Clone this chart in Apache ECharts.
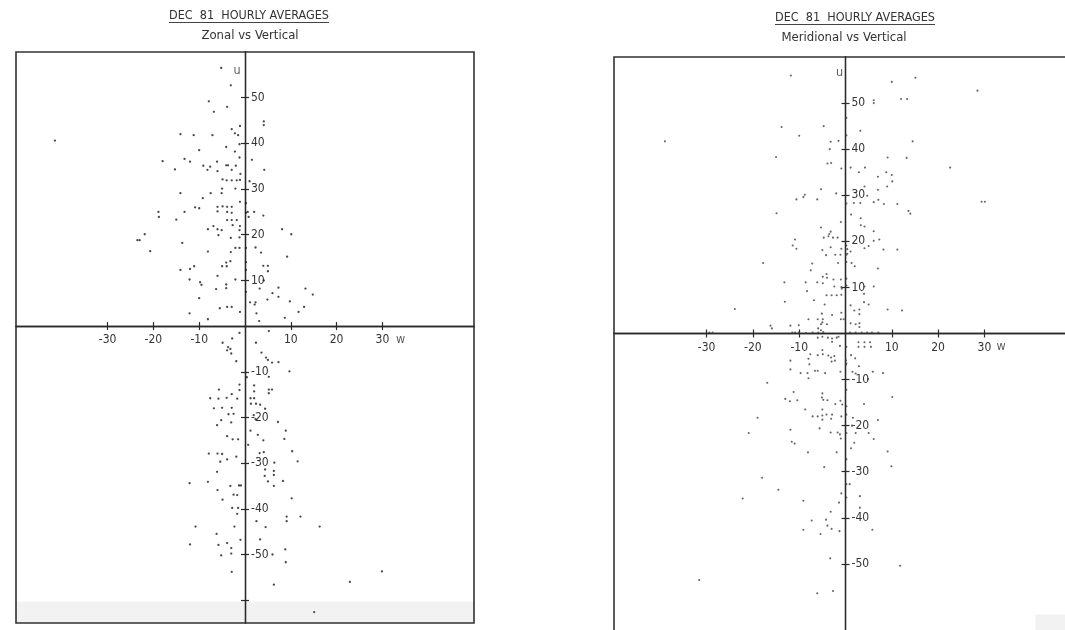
<!DOCTYPE html>
<html>
<head>
<meta charset="utf-8">
<title>DEC 81 HOURLY AVERAGES</title>
<script src="https://cdn.jsdelivr.net/npm/echarts@6/dist/echarts.min.js"></script>
<style>
  html, body { margin: 0; padding: 0; background: #ffffff; }
  #chart { width: 1065px; height: 630px; }
</style>
</head>
<body>
<div id="chart"></div>
<script>
// Text
const mainTitle = 'DEC  81  HOURLY AVERAGES';
const zonalSubtitle = 'Zonal vs Vertical';
const meridSubtitle = 'Meridional vs Vertical';

// Axis ranges and ticks (horizontal: w, vertical: u)
const wRange = [-50, 50];
const uRange = [-65, 60];
const wTicks = [-30, -20, -10, 10, 20, 30];
const uTicksZonal = [-60, -50, -40, -30, -20, -10, 10, 20, 30, 40, 50];
const uTicksMerid = [-50, -40, -30, -20, -10, 10, 20, 30, 40, 50];
const uLabels = [-50, -40, -30, -20, -10, 10, 20, 30, 40, 50];

// Zonal vs vertical hourly averages, [w, u]
const zonalAbove = [
  [-5.2,56.5],[-3.1,52.7],[-7.9,49.2],[-6.8,46.9],[-3.9,48.0],[4.1,44.8],[4.1,44.0],[-41.5,40.6],
  [-14.1,42.0],[-11.2,41.8],[-7.1,41.8],[-2.9,43.1],[-2.2,42.2],[-1.5,41.8],[-1.1,43.8],[-1.2,39.8],
  [-4.1,39.2],[-10.0,38.5],[-2.2,38.2],[-1.2,36.9],[1.5,36.4],[-18.0,36.1],[-13.2,36.6],[-12.0,36.0],
  [-9.1,35.1],[-7.6,34.9],[-8.2,34.2],[-6.1,36.0],[-6.0,33.9],[-4.1,35.2],[-3.7,35.2],[-2.9,34.2],
  [-2.0,35.1],[-1.0,33.3],[4.2,34.2],[-15.3,34.3],[-4.9,32.1],[-4.0,31.9],[-2.9,31.9],[-1.8,31.9],
  [-1.1,32.0],[1.0,31.7],[-2.1,30.1],[-5.0,30.1],[-5.1,29.1],[-7.5,29.1],[-14.1,29.1],[-9.2,28.0],
  [-1.1,27.2],[-10.9,26.0],[-10.0,25.8],[-6.0,26.1],[-4.9,26.2],[-3.9,26.1],[-2.9,26.1],[-6.0,25.1],
  [-3.9,25.0],[-2.9,24.8],[0.6,25.0],[2.0,25.0],[0.8,23.9],[4.0,24.2],[-18.9,25.0],[-18.8,23.9],
  [-13.2,25.0],[-15.0,23.3],[-3.9,23.2],[-2.9,23.2],[-1.8,23.2],[-6.9,21.9],[-2.7,22.1],[-1.1,21.9],
  [-8.1,21.2],[-6.0,21.2],[-5.1,21.0],[-5.8,19.9],[-1.2,21.0],[8.1,21.2],[10.1,20.1],[-21.9,20.1],
  [-23.5,18.8],[-23.0,18.8],[-13.7,18.2],[-3.1,19.3],[-1.2,19.4],[-2.1,17.1],[-1.2,17.1],[2.3,17.2],
  [-20.7,16.4],[-8.1,16.3],[-3.1,16.2],[3.5,16.1],[9.2,15.2],[-3.2,14.2],[-4.1,13.9],[-5.0,13.1],
  [-4.0,13.1],[-11.1,13.1],[-12.0,12.5],[-14.1,12.3],[4.0,13.2],[5.0,13.2],[5.0,12.0],[-6.0,11.0],
  [-12.1,10.2],[-9.8,9.6],[-9.5,9.0],[-4.1,9.1],[-4.1,8.3],[-6.3,8.1],[-2.1,10.2],[4.1,10.0],
  [3.2,8.2],[7.3,8.4],[7.3,6.4],[6.0,7.2],[13.2,8.2],[14.8,6.9],[4.9,5.8],[-10.0,6.1],
  [9.8,5.4],[1.1,5.2],[2.3,5.2],[2.1,4.7],[12.9,4.2],[11.7,3.1],[-5.5,3.9],[-3.9,4.2],
  [-2.9,4.2],[-1.1,3.1],[2.5,2.8],[-12.1,2.8],[-8.1,1.5],[8.7,1.8],[3.1,1.1],
  [0.2,26.9],[0.2,24.8],[0.2,17.1],[0.2,14.0],[0.2,12.3],[0.2,7.5]
];
const zonalBelow = [
  [-1.2,-1.5],[5.2,-1.1],[-2.8,-2.7],[-4.9,-3.65],[2.4,-3.65],[-3.7,-4.6],[-3.2,-5.0],[-3.9,-5.3],
  [-3.0,-6.0],[3.6,-5.8],[4.6,-6.9],[5.0,-7.4],[5.9,-8.0],[7.3,-7.9],[-1.9,-7.7],[9.7,-9.9],
  [0.4,-11.2],[5.2,-11.1],[-1.2,-12.8],[-1.2,-14.0],[2.0,-13.0],[2.0,-14.3],[5.2,-13.9],[5.2,-14.7],
  [5.9,-13.9],[-5.7,-13.9],[-2.9,-14.9],[-7.6,-15.8],[-5.8,-15.9],[-4.0,-15.7],[-1.7,-15.9],[1.2,-15.8],
  [2.0,-15.8],[1.3,-17.0],[2.4,-17.0],[3.3,-17.2],[-6.8,-18.0],[-5.0,-17.9],[-2.9,-17.9],[4.4,-18.1],
  [-3.6,-19.3],[-2.5,-19.2],[-5.2,-20.6],[-3.0,-21.1],[-6.1,-21.7],[1.9,-19.5],[2.3,-20.4],[7.2,-21.0],
  [8.9,-22.9],[1.2,-22.9],[2.8,-23.8],[-3.9,-24.1],[-2.7,-24.8],[-1.5,-24.8],[8.6,-24.7],[4.0,-25.0],
  [0.7,-26.0],[10.3,-27.4],[-7.9,-27.9],[-6.0,-27.9],[-5.0,-28.0],[-1.9,-28.6],[3.2,-27.8],[4.1,-27.6],
  [-3.9,-29.2],[-5.4,-29.7],[6.4,-29.9],[11.5,-29.6],[-6.1,-31.9],[4.4,-31.4],[6.3,-31.7],[6.3,-32.6],
  [4.3,-32.8],[-12.1,-34.4],[-8.1,-34.1],[5.0,-34.0],[6.3,-35.0],[8.3,-33.9],[-3.2,-35.0],[-1.3,-34.9],
  [-0.9,-34.9],[-6.0,-35.9],[-2.5,-36.9],[-1.7,-37.0],[-4.9,-38.0],[10.2,-37.7],[-2.8,-39.8],[-1.5,-39.8],
  [-1.7,-41.1],[2.5,-42.7],[9.1,-41.7],[9.1,-42.7],[12.1,-41.7],[-10.8,-43.9],[-2.3,-43.9],[4.5,-44.0],
  [16.3,-43.9],[-6.2,-45.5],[3.3,-46.7],[-1.0,-46.8],[-12.0,-47.8],[-5.8,-47.9],[-3.9,-47.5],[-3.0,-48.6],
  [-3.0,-49.8],[-5.2,-50.2],[6.0,-50.0],[8.8,-48.9],[8.9,-51.7],[-2.9,-53.8],[29.9,-53.7],[22.9,-56.0],
  [6.3,-56.6],[15.1,-62.6]
];

// Meridional vs vertical hourly averages, [w, u]
const meridAbove = [
  [-11.8,56.0],[10.0,54.6],[15.1,55.5],[28.5,52.7],[6.1,50.6],[6.1,50.0],[12.0,50.9],[13.3,50.9],
  [-13.8,44.8],[-4.7,45.0],[-10.0,42.9],[3.2,44.0],[-39.0,41.7],[-3.2,41.6],[-1.5,41.8],[-3.4,40.0],
  [14.5,41.7],[-15.0,38.3],[9.1,38.2],[13.2,38.1],[-3.9,36.9],[-3.1,37.0],[-0.9,35.8],[1.1,36.0],
  [4.2,36.0],[2.9,35.0],[22.6,36.0],[8.8,35.0],[10.0,34.4],[10.1,33.0],[7.0,34.0],[4.1,31.9],
  [9.0,31.9],[-5.3,31.3],[7.0,31.2],[-2.0,30.4],[-8.8,30.1],[-9.1,29.6],[-10.6,29.1],[-6.1,29.1],
  [4.7,29.9],[1.8,28.3],[3.2,28.3],[6.1,28.5],[7.1,29.0],[8.3,28.1],[11.2,28.1],[29.4,28.6],
  [30.1,28.6],[-14.9,26.1],[13.6,26.6],[14.0,26.0],[1.2,25.8],[3.3,25.0],[-1.0,24.2],[3.3,23.5],
  [4.1,23.2],[-5.3,23.0],[6.1,22.2],[-3.2,22.1],[-3.5,21.6],[-4.7,20.8],[-3.7,21.1],[-2.7,20.8],
  [-1.7,20.8],[-10.9,20.4],[-11.4,19.1],[-10.6,18.4],[6.1,20.1],[7.3,20.4],[5.0,19.0],[-5.0,18.1],
  [-3.2,18.7],[-0.9,18.4],[0.4,18.3],[1.1,17.8],[0.4,17.3],[4.1,18.5],[8.2,18.2],[11.2,18.2],
  [-4.2,17.0],[-2.2,17.1],[-1.1,17.1],[-17.8,15.3],[-7.2,15.2],[-1.6,15.3],[1.3,15.3],[2.0,14.6],
  [7.0,14.1],[-7.5,13.7],[-4.1,12.9],[-4.9,12.3],[-4.0,12.1],[-2.6,11.7],[-1.0,11.7],[-13.2,11.1],
  [-8.6,11.1],[-6.1,11.1],[-4.9,10.9],[-2.4,10.2],[-0.9,10.1],[-0.8,9.7],[4.1,10.2],[6.1,10.2],
  [-8.3,9.2],[4.0,8.6],[-4.1,8.3],[-3.0,8.3],[-1.9,8.3],[-0.9,8.4],[-6.8,7.2],[-13.1,6.9],
  [4.0,6.8],[5.0,6.3],[-4.5,6.3],[1.1,6.1],[-0.9,4.5],[-23.9,5.3],[9.1,5.2],[12.2,5.0],
  [3.0,5.2],[3.0,4.2],[1.9,5.0],[-5.1,4.3],[-2.9,4.0],[-8.0,3.1],[-6.0,3.1],[-4.9,3.1],
  [-1.0,3.1],[-0.4,3.1],[-5.0,2.4],[-5.3,2.0],[-4.0,2.0],[1.1,2.2],[2.2,2.0],[3.0,2.2],
  [-16.2,1.7],[-15.9,1.1],[-11.9,1.7],[-10.1,1.8],[-5.9,1.1],[-5.3,0.7],[3.0,1.4],
  [-11.5,0.2],[-10.9,0.2],[-10.1,0.2],[-8.5,0.1],[-7.1,0.2],[-5.9,0.2],[-4.8,0.3],[1.0,0.2],
  [2.2,0.2],[3.5,0.2],[4.7,0.2],[5.7,0.2],[7.1,0.2],[-29.4,0.2],[-28.7,0.2],
  [0.2,46.8],[0.2,43.0],[0.2,28.2],[0.2,19.1],[0.2,17.1],[0.2,15.5],[0.2,11.9],[0.2,10.4]
];
const meridBelow = [
  [-6.0,-0.9],[-5.0,-0.7],[-3.8,-0.9],[-2.9,-1.1],[-1.9,-0.9],[-1.5,-0.7],[-2.9,-1.8],[-1.2,-2.7],
  [2.8,-1.9],[4.1,-1.9],[5.3,-1.9],[2.8,-2.9],[4.1,-2.9],[5.5,-2.9],[-7.6,-4.5],[-8.0,-5.5],
  [-7.8,-6.7],[-6.0,-4.7],[-5.0,-3.6],[-4.9,-4.5],[-3.7,-4.8],[-3.1,-5.2],[-2.4,-4.9],[-3.0,-6.1],
  [-2.3,-5.9],[0.1,-5.8],[0.1,-6.8],[1.2,-4.7],[2.1,-5.4],[-11.9,-5.9],[-11.9,-7.8],[-9.7,-8.6],
  [-8.2,-8.6],[-8.0,-9.7],[-6.6,-8.1],[-6.0,-8.1],[-4.4,-8.6],[-1.1,-8.3],[1.5,-8.3],[2.2,-8.7],
  [2.9,-7.1],[5.9,-8.3],[8.1,-8.6],[4.9,-9.9],[-16.9,-10.7],[-11.2,-12.7],[-5.0,-13.0],[-5.1,-13.9],
  [-4.8,-14.4],[-3.9,-14.5],[-13.0,-14.2],[-12.0,-14.7],[-10.4,-14.5],[10.1,-13.8],[-1.1,-14.6],[-0.7,-15.4],
  [-2.2,-15.3],[4.0,-15.3],[-5.0,-16.5],[-8.7,-16.5],[-7.1,-18.0],[-6.0,-18.0],[-5.0,-17.8],[-4.1,-17.6],
  [-2.9,-17.6],[-3.1,-18.5],[-5.0,-18.7],[-0.9,-18.0],[1.6,-18.3],[7.0,-18.8],[-19.0,-18.3],[1.4,-20.0],
  [-5.6,-20.6],[-3.2,-21.5],[-1.7,-21.5],[-1.2,-21.9],[2.2,-21.6],[5.0,-21.6],[6.1,-22.9],[-20.9,-21.6],
  [-11.9,-20.9],[-11.6,-23.5],[-11.0,-23.9],[-1.0,-22.8],[1.9,-23.7],[1.2,-24.9],[-8.1,-25.8],[-1.9,-25.8],
  [9.1,-25.6],[9.9,-28.8],[-4.6,-29.0],[-18.0,-31.3],[0.9,-32.7],[-14.5,-33.9],[-0.9,-34.7],[3.1,-35.3],
  [-22.2,-35.8],[-9.1,-36.3],[-1.4,-36.7],[3.1,-37.8],[-3.2,-38.7],[-7.3,-40.6],[-4.2,-40.4],[-3.9,-41.7],
  [-9.1,-42.6],[-3.0,-42.4],[-1.3,-42.9],[-5.4,-43.5],[5.8,-42.6],[-3.3,-48.8],[11.8,-50.4],[-31.6,-53.5],
  [-6.1,-56.4],[-2.7,-55.9],
  [0.2,-2.9],[0.2,-6.5],[0.2,-12.2],[0.2,-15.8],[0.2,-17.6],[0.2,-21.6],[0.2,-27.3],[0.2,-32.7],[0.2,-35.6]
];

// Axis-name positions in data units [w, u]
const uNamePos = [[-1.75, 56.0], [-1.3, 56.6]];
const wNamePos = [[34.0, -3.0], [33.6, -2.8]];

const FONT = '"DejaVu Sans Condensed", "Liberation Sans Narrow", "DejaVu Sans", sans-serif';
const INK = '#2a2a2a';

// Plot frames
const frames = [
  { left: 16, top: 52, width: 458, height: 571 },
  { left: 614, top: 57, width: 463, height: 576 }
];

const chart = echarts.init(document.getElementById('chart'), null, { renderer: 'canvas' });

// Axes cross at the origin: offsets are derived from the value ranges
function zeroOffsets(f) {
  const fracU = (0 - uRange[0]) / (uRange[1] - uRange[0]);
  const fracW = (0 - wRange[0]) / (wRange[1] - wRange[0]);
  return {
    bottom: -f.height * fracU,
    top: -f.height * (1 - fracU),
    left: -f.width * fracW,
    right: -f.width * (1 - fracW)
  };
}

function xAxes(gridIndex) {
  const off = zeroOffsets(frames[gridIndex]);
  const common = {
    type: 'value', gridIndex, min: wRange[0], max: wRange[1], interval: 10,
    splitLine: { show: false },
    axisLine: { onZero: false, lineStyle: { color: INK, width: 1.3 } },
    axisTick: { show: true, length: 4, customValues: wTicks, lineStyle: { color: INK, width: 1.2 } }
  };
  return [
    Object.assign({}, common, {
      position: 'bottom', offset: off.bottom,
      axisLabel: { show: true, customValues: wTicks, margin: 8, color: '#333', fontSize: 12, fontFamily: FONT }
    }),
    Object.assign({}, common, { position: 'top', offset: off.top, axisLabel: { show: false } })
  ];
}

function yAxes(gridIndex, ticks) {
  const off = zeroOffsets(frames[gridIndex]);
  const common = {
    type: 'value', gridIndex, min: uRange[0], max: uRange[1], interval: 10,
    splitLine: { show: false },
    axisLine: { onZero: false, lineStyle: { color: INK, width: 1.3 } },
    axisTick: { show: true, length: 4, customValues: ticks, lineStyle: { color: INK, width: 1.2 } }
  };
  return [
    Object.assign({}, common, { position: 'left', offset: off.left, axisLabel: { show: false } }),
    Object.assign({}, common, {
      position: 'right', offset: off.right,
      axisLabel: { show: true, customValues: uLabels, margin: 6, color: '#333', fontSize: 12, fontFamily: FONT }
    })
  ];
}

function nameSeries(xi, yi, pos, text) {
  return {
    type: 'scatter', xAxisIndex: xi, yAxisIndex: yi, data: [pos], symbolSize: 0, silent: true,
    label: { show: true, position: 'inside', formatter: text, color: '#333', fontSize: 12.5, fontFamily: FONT }
  };
}

function pointSeries(xi, yi, data, color, size) {
  return {
    type: 'scatter', xAxisIndex: xi, yAxisIndex: yi, data, symbol: 'circle', symbolSize: size,
    itemStyle: { color }, silent: true
  };
}

const option = {
  animation: false,
  backgroundColor: '#ffffff',
  grid: frames.map(f => Object.assign({}, f, {
    show: true, borderColor: '#333', borderWidth: 1.6, backgroundColor: 'transparent',
    containLabel: false, outerBoundsMode: 'none'
  })),
  xAxis: [...xAxes(0), ...xAxes(1)],
  yAxis: [...yAxes(0, uTicksZonal), ...yAxes(1, uTicksMerid)],
  series: [
    Object.assign(pointSeries(0, 0, zonalAbove.concat(zonalBelow), '#1a1a1a', 2.3), {
      markArea: {
        silent: true, itemStyle: { color: 'rgba(0,0,0,0.05)' },
        data: [[{ coord: [wRange[0], -60.3] }, { coord: [wRange[1], uRange[0]] }]]
      }
    }),
    Object.assign(pointSeries(2, 2, meridAbove.concat(meridBelow), '#404040', 2.1), {
      markArea: {
        silent: true, itemStyle: { color: 'rgba(0,0,0,0.05)' },
        data: [[{ coord: [41, -61] }, { coord: [wRange[1], uRange[0]] }]]
      }
    }),
    nameSeries(0, 0, uNamePos[0], 'u'),
    nameSeries(0, 0, wNamePos[0], 'w'),
    nameSeries(2, 2, uNamePos[1], 'u'),
    nameSeries(2, 2, wNamePos[1], 'w')
  ]
};

// Headings with underlined main title
const titleFont = '12.5px ' + FONT;
const subFont = '13px ' + FONT;
const measure = (() => {
  const ctx = document.createElement('canvas').getContext('2d');
  return (text, font) => { ctx.font = font; return ctx.measureText(text).width; };
})();
const headings = [
  { cx: 249, y: 16, sx: 250, sy: 36, sub: zonalSubtitle },
  { cx: 855, y: 18, sx: 844, sy: 38, sub: meridSubtitle }
];
option.graphic = [];
headings.forEach(h => {
  const w = measure(mainTitle, titleFont);
  option.graphic.push(
    { type: 'text', x: h.cx, y: h.y, style: { text: mainTitle, font: titleFont, fill: '#333', align: 'center', verticalAlign: 'middle' } },
    { type: 'line', shape: { x1: h.cx - w / 2, y1: h.y + 6.5, x2: h.cx + w / 2, y2: h.y + 6.5 }, style: { stroke: '#444', lineWidth: 1 } },
    { type: 'text', x: h.sx, y: h.sy, style: { text: h.sub, font: subFont, fill: '#333', align: 'center', verticalAlign: 'middle' } }
  );
});

chart.setOption(option);
</script>
</body>
</html>
